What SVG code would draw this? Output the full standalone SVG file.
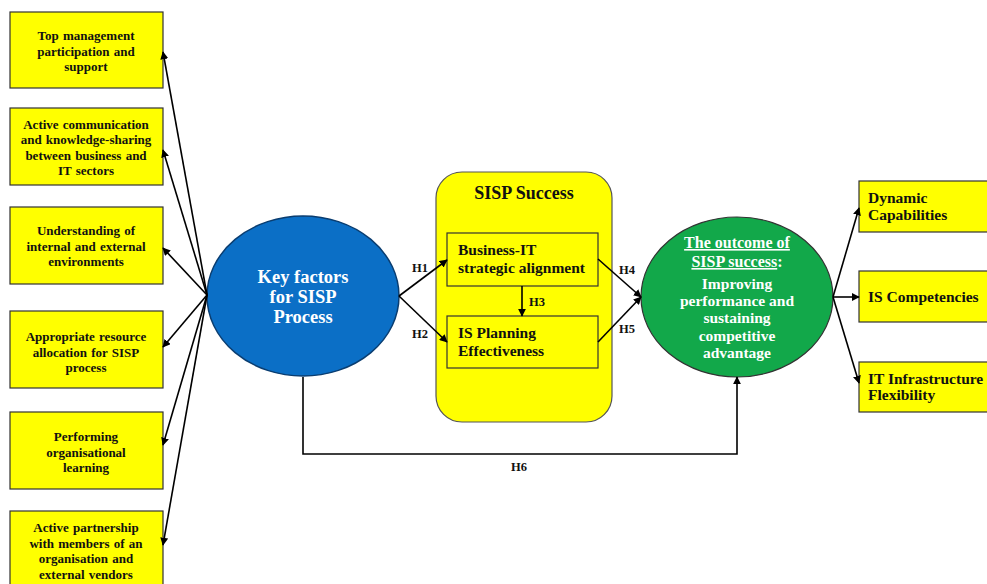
<svg xmlns="http://www.w3.org/2000/svg" width="987" height="584" viewBox="0 0 987 584">
<defs>
<marker id="ah" viewBox="0 0 10 10" refX="9" refY="5" markerWidth="8" markerHeight="8" markerUnits="userSpaceOnUse" orient="auto">
<path d="M0,0 L10,5 L0,10 z" fill="#000"/>
</marker>
<style>
.yb{fill:#FFFF00;stroke:#333;stroke-width:1.2}
.t{font-family:"Liberation Serif","Times New Roman",serif;font-weight:bold;fill:#111}
.l{font-size:13px;text-anchor:middle;word-spacing:1px}
.r{font-size:15.5px}
.w{fill:#fff;text-anchor:middle}
.c{fill:none;stroke:#000;stroke-width:1.6}
.h{font-size:12.5px}
</style>
</defs>
<rect width="987" height="584" fill="#fff"/>

<g id="left1"><rect class="yb" x="10" y="12" width="153" height="76"/>
<text class="t l" x="86" y="40">Top management</text><text class="t l" x="86" y="56">participation  and</text><text class="t l" x="86" y="71">support</text></g>
<g id="left2"><rect class="yb" x="10" y="108" width="153" height="77"/>
<text class="t l" x="86" y="129">Active communication</text><text class="t l" x="86" y="144">and knowledge-sharing</text><text class="t l" x="86" y="160">between business and</text><text class="t l" x="86" y="175">IT sectors</text></g>
<g id="left3"><rect class="yb" x="10" y="207" width="153" height="77"/>
<text class="t l" x="86" y="235">Understanding  of</text><text class="t l" x="86" y="251">internal  and  external</text><text class="t l" x="86" y="266">environments</text></g>
<g id="left4"><rect class="yb" x="10" y="311" width="153" height="77"/>
<text class="t l" x="86" y="341">Appropriate  resource</text><text class="t l" x="86" y="357">allocation  for SISP</text><text class="t l" x="86" y="372">process</text></g>
<g id="left5"><rect class="yb" x="10" y="412" width="153" height="77"/>
<text class="t l" x="86" y="441">Performing</text><text class="t l" x="86" y="457">organisational</text><text class="t l" x="86" y="472">learning</text></g>
<g id="left6"><rect class="yb" x="10" y="511" width="153" height="80"/>
<text class="t l" x="86" y="532">Active partnership</text><text class="t l" x="86" y="548">with  members of an</text><text class="t l" x="86" y="563">organisation  and</text><text class="t l" x="86" y="579">external vendors</text></g>

<g id="keyfactors"><ellipse cx="303" cy="296" rx="96" ry="80" fill="#0B6FC6" stroke="#0A3D70" stroke-width="1.5"/>
<text class="t w" font-size="18.5" x="303" y="283">Key factors</text><text class="t w" font-size="18.5" x="303" y="303">for SISP</text><text class="t w" font-size="18.5" x="303" y="323">Process</text></g>

<g id="sisp"><rect x="436" y="172" width="176" height="250" rx="26" ry="26" fill="#FFFF00" stroke="#555" stroke-width="1.2"/>
<text class="t" font-size="18" x="524" y="199" text-anchor="middle">SISP Success</text></g>
<g id="bitalign"><rect class="yb" x="447" y="233" width="151" height="53"/>
<text class="t r" x="458" y="255">Business-IT</text><text class="t r" x="458" y="273">strategic alignment</text></g>
<g id="ispe"><rect class="yb" x="447" y="316" width="151" height="52"/>
<text class="t r" x="458" y="338">IS Planning</text><text class="t r" x="458" y="356">Effectiveness</text></g>

<g id="outcome"><ellipse cx="737" cy="297" rx="96" ry="80" fill="#12A84A" stroke="#333" stroke-width="1.2"/>
<text class="t w" font-size="16" x="737" y="248" text-decoration="underline">The outcome of</text>
<text class="t w" font-size="16" x="737" y="267"><tspan text-decoration="underline">SISP success</tspan>:</text>
<text class="t w" font-size="15.5" x="737" y="289">Improving</text>
<text class="t w" font-size="15.5" x="737" y="306">performance and</text>
<text class="t w" font-size="15.5" x="737" y="323">sustaining</text>
<text class="t w" font-size="15.5" x="737" y="341">competitive</text>
<text class="t w" font-size="15.5" x="737" y="358">advantage</text></g>

<g id="dyn"><rect class="yb" x="859" y="181" width="140" height="51"/>
<text class="t r" x="868" y="203">Dynamic</text><text class="t r" x="868" y="220">Capabilities</text></g>
<g id="isc"><rect class="yb" x="859" y="271" width="140" height="51"/>
<text class="t r" x="868" y="302">IS Competencies</text></g>
<g id="itf"><rect class="yb" x="859" y="362" width="140" height="50"/>
<text class="t r" x="868" y="384">IT Infrastructure</text><text class="t r" x="868" y="400">Flexibility</text></g>

<g id="connectors">
<line class="c" x1="207" y1="295" x2="163" y2="52" marker-end="url(#ah)"/>
<line class="c" x1="207" y1="295" x2="163" y2="150" marker-end="url(#ah)"/>
<line class="c" x1="207" y1="295" x2="163" y2="248" marker-end="url(#ah)"/>
<line class="c" x1="207" y1="295" x2="163" y2="347" marker-end="url(#ah)"/>
<line class="c" x1="207" y1="295" x2="163" y2="445" marker-end="url(#ah)"/>
<line class="c" x1="207" y1="295" x2="163" y2="545" marker-end="url(#ah)"/>
<line class="c" x1="399" y1="296" x2="447" y2="260" marker-end="url(#ah)"/>
<line class="c" x1="399" y1="296" x2="447" y2="342" marker-end="url(#ah)"/>
<line class="c" x1="522" y1="286" x2="522" y2="316" marker-end="url(#ah)"/>
<line class="c" x1="598" y1="259" x2="641" y2="297" marker-end="url(#ah)"/>
<line class="c" x1="598" y1="342" x2="641" y2="297" marker-end="url(#ah)"/>
<polyline class="c" points="303,377 303,454 737,454 737,377" marker-end="url(#ah)"/>
<line class="c" x1="833" y1="297" x2="859" y2="208" marker-end="url(#ah)"/>
<line class="c" x1="833" y1="297" x2="859" y2="297" marker-end="url(#ah)"/>
<line class="c" x1="833" y1="297" x2="859" y2="383" marker-end="url(#ah)"/>
<text class="t h" x="412" y="272">H1</text>
<text class="t h" x="412" y="338">H2</text>
<text class="t h" x="529" y="306">H3</text>
<text class="t h" x="619" y="274">H4</text>
<text class="t h" x="619" y="333">H5</text>
<text class="t h" x="511" y="471">H6</text>
</g>
</svg>
